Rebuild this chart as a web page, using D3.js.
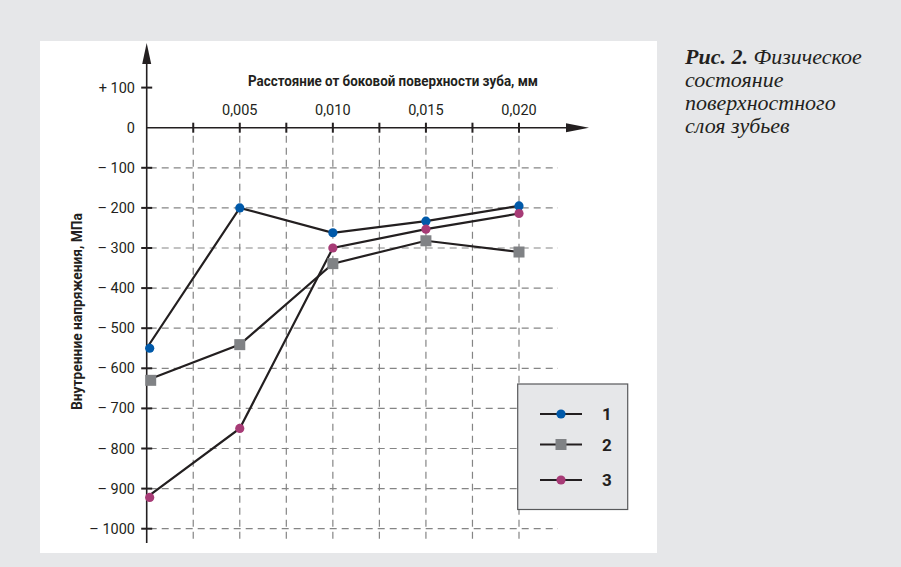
<!DOCTYPE html>
<html><head><meta charset="utf-8">
<script src="https://cdn.jsdelivr.net/npm/d3@7"></script>
<style>
body{margin:0;background:#e6e7e9;}
svg{display:block;}
.nar{font-family:Roboto,"DejaVu Sans Condensed",sans-serif;}
</style></head>
<body>
<svg id="c" width="901" height="567"></svg>
<script>
const xValues = [0, 0.005, 0.010, 0.015, 0.020];
const series1 = [-550, -200, -262, -233, -195];
const series2 = [-630, -541, -339, -282, -310];
const series3 = [-922, -750, -300, -253, -214];
const seriesNames = ["1", "2", "3"];
const yTicks = [100, 0, -100, -200, -300, -400, -500, -600, -700, -800, -900, -1000];
const xTickLabels = ["0,005", "0,010", "0,015", "0,020"];
const xTickLabelValues = [0.005, 0.010, 0.015, 0.020];
const xMinorTicks = [0.0025, 0.005, 0.0075, 0.010, 0.0125, 0.015, 0.0175, 0.020];
const xTitle = "Расстояние от боковой поверхности зуба, мм";
const yTitle = "Внутренние напряжения, МПа";
const captionBold = "Рис. 2.";
const captionLines = ["Физическое", "состояние", "поверхностного", "слоя зубьев"];

const svg = d3.select("#c");
const colors = ["#0059a9", "#808285", "#a73b76"];
const shapes = ["circle", "square", "circle"];
const lineColor = "#231f20";
const gridColor = "#858585";

// white panel
svg.append("rect").attr("x",40).attr("y",41).attr("width",617).attr("height",512).attr("fill","#fff");

const x = d3.scaleLinear().domain([0, 0.020]).range([146.7, 519]);
const y = d3.scaleLinear().domain([100, -1000]).range([87.6, 528.7]);

// grid
const g = svg.append("g");
g.selectAll(".hg").data(yTicks.filter(d => d < 0)).join("line")
  .attr("x1", x(0)+3).attr("x2", 558).attr("y1", d=>y(d)).attr("y2", d=>y(d))
  .attr("stroke", gridColor).attr("stroke-width",1.2).attr("stroke-dasharray","7,5");
g.selectAll(".vg").data(xMinorTicks).join("line")
  .attr("x1", d=>x(d)).attr("x2", d=>x(d)).attr("y1", y(0)+8).attr("y2", 541)
  .attr("stroke", gridColor).attr("stroke-width",1.2).attr("stroke-dasharray","7,5");

// axes
const axisColor = "#231f20";
svg.append("line").attr("x1", x(0)).attr("x2", x(0)).attr("y1", 55).attr("y2", 543)
  .attr("stroke", axisColor).attr("stroke-width", 1.6);
svg.append("line").attr("x1", x(0)).attr("x2", 575).attr("y1", y(0)).attr("y2", y(0))
  .attr("stroke", axisColor).attr("stroke-width", 1.6);
svg.append("path").attr("d", `M${x(0)},43 L${x(0)-4.5},64 L${x(0)+4.5},64 Z`).attr("fill", axisColor);
svg.append("path").attr("d", `M589,${y(0)} L566,${y(0)-4.5} L566,${y(0)+4.5} Z`).attr("fill", axisColor);

// y ticks
svg.selectAll(".yt").data(yTicks.filter(d=>d!==0)).join("line")
  .attr("x1", x(0)-5.5).attr("x2", x(0)+5.5).attr("y1", d=>y(d)).attr("y2", d=>y(d))
  .attr("stroke", axisColor).attr("stroke-width", 2);
svg.selectAll(".yl").data(yTicks).join("text").attr("class","nar")
  .attr("x", 135).attr("y", d=>y(d)+5).attr("text-anchor","end")
  .attr("font-size", 14.5).attr("fill", "#231f20")
  .text(d => d > 0 ? "+ " + d : d === 0 ? "0" : "– " + (-d));

// x ticks
svg.selectAll(".xt").data(xMinorTicks).join("line")
  .attr("x1", d=>x(d)).attr("x2", d=>x(d)).attr("y1", y(0)-5).attr("y2", y(0)+5)
  .attr("stroke", axisColor).attr("stroke-width", 2);
svg.selectAll(".xl").data(xTickLabelValues).join("text").attr("class","nar")
  .attr("x", d=>x(d)).attr("y", 115).attr("text-anchor","middle")
  .attr("font-size", 14.5).attr("fill","#231f20")
  .text((d,i)=>xTickLabels[i]);

// titles
svg.append("text").attr("class","nar").attr("x", 248).attr("y", 86)
  .attr("textLength", 290).attr("lengthAdjust","spacingAndGlyphs")
  .attr("font-size", 15).attr("font-weight","bold").attr("fill","#231f20").text(xTitle);
svg.append("text").attr("class","nar").attr("transform","translate(82,410) rotate(-90)")
  .attr("textLength", 197).attr("lengthAdjust","spacingAndGlyphs")
  .attr("font-size", 15).attr("font-weight","bold").attr("fill","#231f20").text(yTitle);

// series
const allSeries = [series1, series2, series3];
const line = d3.line().x((d,i)=>x(xValues[i])).y(d=>y(d));
allSeries.forEach((s) => {
  svg.append("path").attr("d", line(s)).attr("fill","none").attr("stroke", lineColor).attr("stroke-width", 2.2);
});
allSeries.forEach((s, si) => {
  const gg = svg.append("g");
  if (shapes[si] === "circle") {
    gg.selectAll("circle").data(s).join("circle")
      .attr("cx",(d,i)=>x(xValues[i]) + (i===0?3:0)).attr("cy", d=>y(d)).attr("r", 4.6).attr("fill", colors[si]);
  } else {
    gg.selectAll("rect").data(s).join("rect")
      .attr("x",(d,i)=>x(xValues[i]) + (i===0?4:0) - 5.5).attr("y", d=>y(d)-5.5)
      .attr("width", 11).attr("height", 11).attr("fill", colors[si]);
  }
});

// legend
svg.append("rect").attr("x", 517.7).attr("y", 384).attr("width", 110).attr("height", 125.5)
  .attr("fill", "#e6e7e9").attr("stroke", "#58595b").attr("stroke-width", 1.2);
const legY = [414, 444.5, 480];
seriesNames.forEach((n, i) => {
  svg.append("line").attr("x1", 540).attr("x2", 582).attr("y1", legY[i]).attr("y2", legY[i])
    .attr("stroke", lineColor).attr("stroke-width", 2.2);
  if (shapes[i] === "circle") {
    svg.append("circle").attr("cx", 561).attr("cy", legY[i]).attr("r", 4.6).attr("fill", colors[i]);
  } else {
    svg.append("rect").attr("x", 555.5).attr("y", legY[i]-5.5).attr("width", 11).attr("height", 11).attr("fill", colors[i]);
  }
  svg.append("text").attr("class","nar").attr("x", 607).attr("y", legY[i]+6).attr("text-anchor","middle")
    .attr("font-size", 17).attr("font-weight","bold").attr("fill","#231f20").text(n);
});

// caption
const capFont = '"Liberation Serif","DejaVu Serif",serif';
const cap = svg.append("text").attr("x", 685).attr("y", 63.5)
  .attr("font-family", capFont).attr("font-style","italic")
  .attr("font-size", 22).attr("fill", "#231f20");
cap.append("tspan").attr("font-weight","bold").text(captionBold + " ");
cap.append("tspan").text(captionLines[0]);
captionLines.slice(1).forEach((l, i) => {
  svg.append("text").attr("x", 685).attr("y", 63.5 + 23.3*(i+1))
    .attr("font-family", capFont).attr("font-style","italic")
    .attr("font-size", 22).attr("fill", "#231f20").text(l);
});
</script>
</body></html>
